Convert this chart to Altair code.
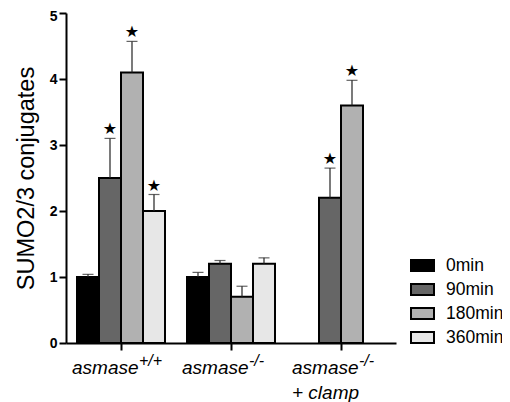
import altair as alt
import pandas as pd

groups = ["wt", "ko", "clamp"]
group_main = ["asmase", "asmase", "asmase"]
group_sup = ["+/+", "-/-", "-/-"]
group_line2 = ["", "", "+ clamp"]

times = ["0min", "90min", "180min", "360min"]
colors = ["#000000", "#666666", "#b1b1b1", "#e7e7e7"]

wt_means = [1.0, 2.5, 4.1, 2.0]
wt_err = [0.04, 0.6, 0.47, 0.25]
wt_sig = [False, True, True, True]

ko_means = [1.0, 1.2, 0.7, 1.2]
ko_err = [0.07, 0.05, 0.16, 0.09]
ko_sig = [False, False, False, False]

clamp_times = ["90min", "180min"]
clamp_means = [2.2, 3.6]
clamp_err = [0.45, 0.38]
clamp_sig = [True, True]

rows = []
for t, m, e, s in zip(times, wt_means, wt_err, wt_sig):
    rows.append({"group": "wt", "time": t, "mean": m, "upper": m + e, "sig": s})
for t, m, e, s in zip(times, ko_means, ko_err, ko_sig):
    rows.append({"group": "ko", "time": t, "mean": m, "upper": m + e, "sig": s})
for t, m, e, s in zip(clamp_times, clamp_means, clamp_err, clamp_sig):
    rows.append({"group": "clamp", "time": t, "mean": m, "upper": m + e, "sig": s})
df = pd.DataFrame(rows)

lab = pd.DataFrame({"group": groups, "main": group_main, "sup": group_sup, "line2": group_line2})

FONT = "Liberation Sans"
W, H = 330, 330

X = alt.X("group:N", sort=groups, title=None,
          scale=alt.Scale(paddingInner=0.2, paddingOuter=0.1),
          axis=alt.Axis(labels=False, domainColor="black", domainWidth=2,
                        tickColor="black", tickWidth=2, tickSize=7, grid=False))
XO = alt.XOffset("time:N", sort=times, scale=alt.Scale(domain=times, paddingInner=0, paddingOuter=0))
Y = alt.Y("mean:Q", title="SUMO2/3 conjugates",
          scale=alt.Scale(domain=[0, 5], nice=False),
          axis=alt.Axis(values=[0, 1, 2, 3, 4, 5], format="d", grid=False,
                        domainColor="black", domainWidth=2, tickColor="black",
                        tickWidth=2, tickSize=7, labelFont=FONT, labelFontSize=14,
                        labelFontWeight="bold", labelColor="black", labelPadding=2,
                        labelOffset={"condition": {"test": "datum.value == 5", "value": 3}, "value": 0},
                        titleFont=FONT, titleFontSize=23.5, titleFontWeight="normal",
                        titleColor="black", titlePadding=11))

base = alt.Chart(df)

bars = base.mark_bar(stroke="black", strokeWidth=2).encode(
    x=X, xOffset=XO, y=Y,
    fill=alt.Fill("time:N", sort=times,
                  scale=alt.Scale(domain=times, range=colors),
                  legend=alt.Legend(title=None, orient="none", legendX=344, legendY=240,
                                    symbolType="M-1,-0.48H1V0.48H-1Z", symbolSize=529,
                                    symbolStrokeColor="black", symbolStrokeWidth=2,
                                    symbolOpacity=1, labelFont=FONT, labelFontSize=17.5,
                                    labelColor="black", labelOffset=11, rowPadding=1,
                                    padding=0)),
)

err = base.mark_rule(color="#222222", strokeWidth=1.2).encode(
    x=X, xOffset=XO, y="mean:Q", y2="upper:Q")

cap = base.mark_tick(color="#222222", size=11, thickness=1.2, orient="horizontal").encode(
    x=X, xOffset=XO, y="upper:Q")

stars = base.transform_filter("datum.sig").mark_text(
    text="★", font="DejaVu Sans", fontSize=16, dy=-9, color="black").encode(
    x=X, xOffset=XO, y="upper:Q")

lbase = alt.Chart(lab)
main_t = lbase.mark_text(font=FONT, fontSize=19, fontStyle="italic", align="left",
                         baseline="middle", dx=-49, color="black").encode(
    x=alt.X("group:N", sort=groups), y=alt.value(H + 25), text="main:N")
sup_t = lbase.mark_text(font=FONT, fontSize=16, fontStyle="italic", align="left",
                        baseline="middle", dx=18, color="black").encode(
    x=alt.X("group:N", sort=groups), y=alt.value(H + 18), text="sup:N")
line2_t = lbase.mark_text(font=FONT, fontSize=19, fontStyle="italic", align="left",
                          baseline="middle", dx=-49, color="black").encode(
    x=alt.X("group:N", sort=groups), y=alt.value(H + 50), text="line2:N")

chart = alt.layer(bars, err, cap, stars, main_t, sup_t, line2_t).properties(
    width=W, height=H,
    background="white",
    autosize=alt.AutoSizeParams(type="none"),
    padding={"left": 58, "top": 5, "right": 106, "bottom": 59},
).configure_view(strokeWidth=0)

chart.save("out.html", embed_options={"renderer": "svg", "actions": False})
